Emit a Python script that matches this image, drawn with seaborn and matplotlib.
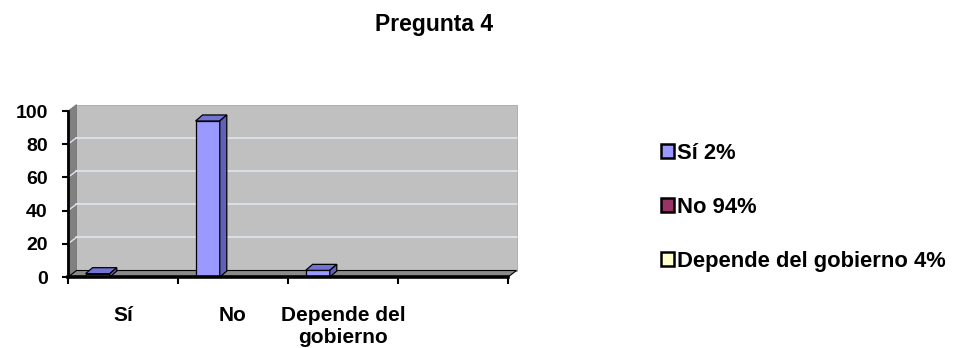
import matplotlib
matplotlib.use('Agg')
import matplotlib.pyplot as plt
import seaborn as sns
import pandas as pd
import numpy as np
from matplotlib.patches import Patch, Polygon, Rectangle

# Data
categories = ['Sí', 'No', 'Depende del gobierno']
tick_labels = ['Sí', 'No', 'Depende del\ngobierno']
values = [2, 94, 4]
legend_labels = ['Sí 2%', 'No 94%', 'Depende del gobierno 4%']
legend_colors = ['#9999ff', '#993366', '#ffffcc']

df = pd.DataFrame({'respuesta': categories, 'valor': values})

sns.set_style('white')
plt.rcParams['font.family'] = ['Liberation Sans', 'DejaVu Sans']
plt.rcParams['font.weight'] = 'bold'
plt.rcParams['text.color'] = 'black'
plt.rcParams['xtick.color'] = 'black'
plt.rcParams['ytick.color'] = 'black'
plt.rcParams['axes.labelcolor'] = 'black'

fig = plt.figure(figsize=(9.56, 3.48), dpi=100)
ax = fig.add_axes([0.0711, 0.204, 0.4603, 0.477])
ax.set_facecolor('none')

sns.barplot(data=df, x='respuesta', y='valor', order=categories, width=0.22,
            color='#9999ff', edgecolor='black', linewidth=0.9, saturation=1,
            ax=ax, zorder=3)

x0, x1 = -0.27, 3.73
ax.set_xlim(x0, x1)
ax.set_ylim(0, 100)

# pixel -> data conversion for the fake 3D depth
p0 = ax.transData.transform((0, 0))
p1 = ax.transData.transform((1, 1))
px_x = p1[0] - p0[0]
px_y = p1[1] - p0[1]
wx, wy = 8.5 / px_x, 6.5 / px_y   # walls
bx, by = 7 / px_x, 6 / px_y       # bars

# back wall, left wall, floor
ax.add_patch(Rectangle((x0 + wx, wy), x1 - x0, 100, facecolor='#c0c0c0',
                       edgecolor='#a8a8a8', lw=0.6, zorder=0, clip_on=False))
ax.add_patch(Polygon([(x0, 0), (x0, 100), (x0 + wx, 100 + wy), (x0 + wx, wy)],
                     closed=True, facecolor='#808080', edgecolor='#707070', lw=0.5,
                     zorder=0.2, clip_on=False))
ax.add_patch(Polygon([(x0, 0), (x1, 0), (x1 + wx, wy), (x0 + wx, wy)],
                     closed=True, facecolor='#8a8a8a', edgecolor='black', lw=0.8,
                     zorder=0.2, clip_on=False))

# gridlines on the walls
for g in [20, 40, 60, 80]:
    ax.plot([x0 + wx, x1 + wx], [g + wy, g + wy], color='#dde6f0', lw=1.2,
            zorder=0.5, clip_on=False)
    ax.plot([x0, x0 + wx], [g, g + wy], color='#dde6f0', lw=1.0,
            zorder=0.5, clip_on=False)

# top and side faces of the bars
for bar in ax.patches[:]:
    if not isinstance(bar, Rectangle) or bar.get_zorder() != 3:
        continue
    bx0 = bar.get_x()
    bx1 = bx0 + bar.get_width()
    h = bar.get_height()
    ax.add_patch(Polygon([(bx0, h), (bx1, h), (bx1 + bx, h + by), (bx0 + bx, h + by)],
                         closed=True, facecolor='#7373d6', edgecolor='black', lw=0.9,
                         zorder=3, clip_on=False))
    ax.add_patch(Polygon([(bx1, 0), (bx1, h), (bx1 + bx, h + by), (bx1 + bx, by)],
                         closed=True, facecolor='#6161b5', edgecolor='black', lw=0.9,
                         zorder=3, clip_on=False))

# axes styling
for s in ['top', 'right']:
    ax.spines[s].set_visible(False)
ax.spines['left'].set_linewidth(2)
ax.spines['bottom'].set_linewidth(2.6)
ax.spines['left'].set_color('black')
ax.spines['bottom'].set_color('black')
ax.spines['left'].set_zorder(4)
ax.spines['bottom'].set_zorder(4)

ax.set_yticks([0, 20, 40, 60, 80, 100])
ax.tick_params(axis='y', left=True, length=4.5, width=1.5, pad=10, labelsize=14,
               colors='black')
for t in ax.get_yticklabels():
    t.set_fontweight('bold')

ax.set_xticks(np.arange(5) + x0)
ax.set_xticklabels([])
ax.set_xticks(np.arange(len(categories)) + 0.23, minor=True)
ax.set_xticklabels(tick_labels, minor=True, fontsize=15, fontweight='bold')
ax.tick_params(axis='x', which='major', bottom=True, length=5, width=1.5,
               direction='out', colors='black')
ax.tick_params(axis='x', which='minor', bottom=True, length=0, pad=21, labelcolor='black')
ax.set_xlabel('')
ax.set_ylabel('')

fig.text(0.4545, 0.911, 'Pregunta 4', ha='center', va='baseline',
         fontsize=16.5, fontweight='bold', color='black')

handles = [Patch(facecolor=c, edgecolor='black', linewidth=1.8) for c in legend_colors]
leg = fig.legend(handles, legend_labels, loc='center left', bbox_to_anchor=(0.691, 0.404),
                 frameon=False, handlelength=0.62, handleheight=0.62,
                 handletextpad=0.15, labelspacing=1.5, borderpad=0, borderaxespad=0,
                 prop={'weight': 'bold', 'size': 15.8})
for t in leg.get_texts():
    t.set_color('black')

fig.savefig('out.png', dpi=100)
